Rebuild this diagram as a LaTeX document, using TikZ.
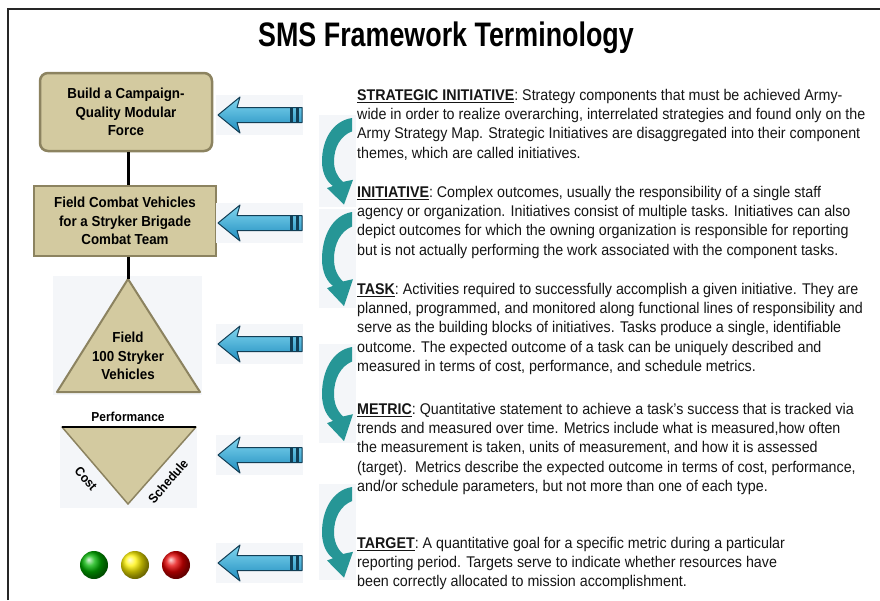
\documentclass[tikz,border=0pt]{standalone}
\usepackage{fontspec}
\setmainfont[FakeStretch=0.92]{Liberation Sans}
\newfontfamily\titlefont[FakeStretch=0.79]{Liberation Sans}
\usepackage{xcolor}
\usepackage{tikz}
\usetikzlibrary{calc}

\definecolor{boxtan}{RGB}{211,202,160}
\definecolor{boxedge}{RGB}{140,131,96}
\definecolor{arrowblue}{RGB}{30,140,190}
\definecolor{arrowlight}{RGB}{130,215,240}
\definecolor{arrowedge}{RGB}{18,62,85}
\definecolor{turnteal}{RGB}{38,150,150}
\definecolor{imgbg}{RGB}{244,246,249}
\definecolor{bodytext}{RGB}{22,22,22}

\newcommand{\hd}[1]{\underline{\textbf{#1}}}

\tikzset{
  pics/leftarrow/.style={code={
    \fill[imgbg] (-2,-20) rectangle (85,20);
    \draw[arrowedge, line width=1pt, line join=round, top color=arrowlight, bottom color=arrowblue]
      (0,0) -- (22,-18) -- (19,-7.5) -- (84,-7.5) -- (84,7.5) -- (19,7.5) -- (22,18) -- cycle;
    \fill[arrowedge] (72,-7.5) rectangle (74.5,7.5);
    \fill[arrowedge] (78,-7.5) rectangle (80.5,7.5);
  }},
  pics/turnarrow/.style={code={
    \fill[imgbg] (-3,-3) rectangle (34,86);
    \fill[turnteal] (30,0) .. controls (10,3) and (0,22) .. (0,42)
      .. controls (0,54) and (5,62) .. (11,66) -- (5,68) -- (22,84) -- (31,60) -- (21,62)
      .. controls (15,57) and (12,50) .. (12,42) .. controls (12,28) and (19,17) .. (30,13) -- cycle;
  }}
}

\begin{document}
\begin{tikzpicture}[x=1pt, y=-1pt,
    tanbox/.style={draw=boxedge, line width=2.5pt, fill=boxtan, align=center,
      font=\bfseries\fontsize{14.5}{18.5}\selectfont},
    label/.style={font=\bfseries\fontsize{13}{18}\selectfont, inner sep=1pt, align=center},
    term/.style={anchor=north west, inner sep=0pt, align=left, text=bodytext,
      font=\fontsize{15.5}{19.2}\selectfont},
    lamp/.style={circle, minimum size=28pt, inner sep=0pt}]
  \useasboundingbox (0,0) rectangle (880,600);
  \fill[white] (0,0) rectangle (880,600);
  \draw[line width=1.5pt, black!85] (8,600) -- (8,9) -- (880,9);

  \node[font=\titlefont\bfseries\fontsize{34}{40}\selectfont] (title) at (446,38) {SMS Framework Terminology};

  % left column
  \node[tanbox, rounded corners=8pt, minimum width=172pt, minimum height=78pt] (build) at (126,112)
    {Build a Campaign-\\Quality Modular\\Force};
  \node[tanbox, minimum width=182pt, minimum height=70pt] (field) at (125,221)
    {Field Combat Vehicles\\for a Stryker Brigade\\Combat Team};

  \fill[imgbg] (53,276) rectangle (202,395);
  \coordinate (apex) at (128,279);
  \coordinate (baseL) at (57,392);
  \coordinate (baseR) at (200,392);
  \draw[boxedge, fill=boxtan, line width=2pt, line join=round] (apex) -- (baseL) -- (baseR) -- cycle;
  \node[tanbox, draw=none, fill=none] (vehicles) at (128,356) {Field\\100 Stryker\\Vehicles};

  \draw[line width=3pt] (build.south -| apex) -- (field.north -| apex);
  \draw[line width=3pt] (field.south -| apex) -- (apex);

  \fill[imgbg] (60,426) rectangle (197,508);
  \coordinate (invL) at (62,427);
  \coordinate (invR) at (196,427);
  \coordinate (invB) at (128,504);
  \draw[boxedge, fill=boxtan, line width=1.5pt, line join=round] (invL) -- (invR) -- (invB) -- cycle;
  \draw[line width=1.5pt] (invL) -- (invR);
  \node[label] (perf) at (128,417) {Performance};
  \node[label, rotate=-49] (cost) at (86,479) {Cost};
  \node[label, rotate=49] (sched) at (168,481) {Schedule};

  \node[lamp, ball color=green!70!black] (go) at (94,565) {};
  \node[lamp, ball color=yellow!90!orange] (caution) at (135,565) {};
  \node[lamp, ball color=red!90!black] (stop) at (176,565) {};

  % arrows
  \pic at (218,115) {leftarrow};
  \pic at (218,223) {leftarrow};
  \pic at (218,344) {leftarrow};
  \pic at (218,455) {leftarrow};
  \pic at (218,563) {leftarrow};

  \pic[yscale=1.03] at (322,118) {turnarrow};
  \pic[yscale=1.12] at (322,212) {turnarrow};
  \pic[yscale=1.12] at (322,347) {turnarrow};
  \pic[yscale=1.08] at (322,487) {turnarrow};

  % terms
  \node[term] (strat) at (357,89) {\hd{STRATEGIC INITIATIVE}:~Strategy components that must be achieved Army-\\
    wide in order to realize overarching, interrelated strategies and found only on the\\
    Army Strategy Map. Strategic Initiatives are disaggregated into their component\\
    themes, which are called initiatives.};
  \node[term] (init) at (357,186) {\hd{INITIATIVE}:~Complex outcomes, usually the responsibility of a single staff\\
    agency or organization. Initiatives consist of multiple tasks. Initiatives can also\\
    depict outcomes for which the owning organization is responsible for reporting\\
    but is not actually performing the work associated with the component tasks.};
  \node[term] (task) at (357,283) {\hd{TASK}:~Activities required to successfully accomplish a given initiative. They are\\
    planned, programmed, and monitored along functional lines of responsibility and\\
    serve as the building blocks of initiatives. Tasks produce a single, identifiable\\
    outcome. The expected outcome of a task can be uniquely described and\\
    measured in terms of cost, performance, and schedule metrics.};
  \node[term] (metric) at (357,403) {\hd{METRIC}:~Quantitative statement to achieve a task's success that is tracked via\\
    trends and measured over time. Metrics include what is measured,how often\\
    the measurement is taken, units of measurement, and how it is assessed\\
    (target).~~Metrics describe the expected outcome in terms of cost, performance,\\
    and/or schedule parameters, but not more than one of each type.};
  \node[term] (target) at (357,537) {\hd{TARGET}:~A quantitative goal for a specific metric during a particular\\
    reporting period. Targets serve to indicate whether resources have\\
    been correctly allocated to mission accomplishment.};
\end{tikzpicture}
\end{document}
